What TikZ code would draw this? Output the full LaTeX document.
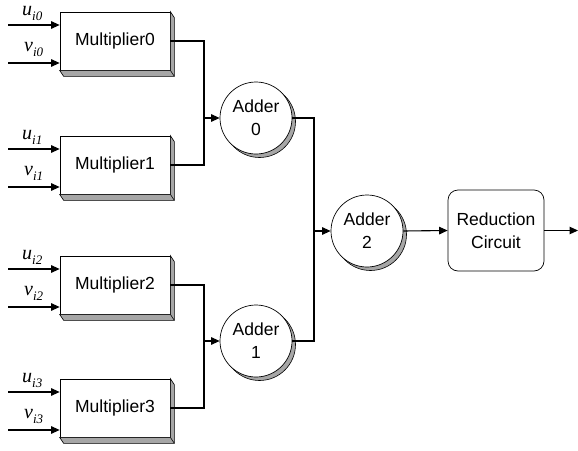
\documentclass[tikz,border=0pt]{standalone}
\usepackage{fontspec}
\setmainfont{Liberation Sans}
\newfontfamily\lblfont{Liberation Serif}
\usetikzlibrary{arrows.meta,calc,shadows}

% italic operand name with a lowered index
\newcommand{\opname}[2]{{\lblfont\itshape\fontsize{20}{20}\selectfont #1\lower5pt\hbox{\fontsize{13}{13}\selectfont #2}}}

\begin{document}
\begin{tikzpicture}[x=1pt,y=-1pt,
  mult/.style={draw, line width=0.7pt, fill=white, minimum width=110pt,
    minimum height=58pt, inner sep=0pt, font=\fontsize{17.5}{20}\selectfont},
  adder/.style={draw, circle, line width=0.7pt, fill=white, minimum size=72pt,
    inner sep=0pt, align=center, font=\fontsize{17.5}{23}\selectfont,
    drop shadow={shadow xshift=3.5pt, shadow yshift=-3.5pt, fill=gray!70,
      draw=black, line width=0.6pt, opacity=1}},
  redbox/.style={draw, rounded corners=10pt, line width=0.7pt, fill=white,
    minimum width=96pt, minimum height=81pt, inner sep=0pt, align=center,
    font=\fontsize{17.5}{23}\selectfont},
  extrude/.style={fill=gray!70, draw=black, line width=0.6pt},
  wire/.style={line width=1.1pt},
  arr/.style={wire, -{Triangle[length=8.5pt,width=7.5pt]}},
  lbl/.style={anchor=base west, inner sep=0pt}
]
\useasboundingbox (0,0) rectangle (578,450);

% multipliers with their operand inputs
\foreach \k/\cy in {0/41, 1/165, 2/285, 3/408} {
  \node[mult] (m\k) at (115,\cy) {Multiplier\k};
  \draw[extrude] (m\k.north east) -- ($(m\k.north east)+(4,6)$)
    -- ($(m\k.south east)+(4,6)$) -- ($(m\k.south west)+(4,6)$)
    -- (m\k.south west) -- (m\k.south east) -- cycle;
  \draw[line width=0.6pt] (m\k.south east) -- ($(m\k.south east)+(4,6)$);
  \coordinate (u\k) at (8,\cy-16);
  \coordinate (v\k) at (8,\cy+22);
  \draw[arr] (u\k) -- (u\k -| m\k.west);
  \draw[arr] (v\k) -- (v\k -| m\k.west);
  \node[lbl] (lu\k) at (22,\cy-26) {\opname{u}{i\k}};
  \node[lbl] (lv\k) at (24,\cy+10) {\opname{v}{i\k}};
}

% adder tree and reduction stage
\node[adder] (a0) at (256,118) {Adder\\0};
\node[adder] (a1) at (256,341) {Adder\\1};
\node[adder] (a2) at (367,231) {Adder\\2};
\node[redbox] (rc) at (496,230.5) {Reduction\\Circuit};

\coordinate (j0) at (204,0);
\coordinate (j1) at (204,0);
\coordinate (j2) at (314,0);
\coordinate (out) at (578,230.5);

\draw[wire] (m0.east) -- (m0.east -| j0) -- (m1.east -| j0) -- (m1.east);
\draw[arr] (a0.west -| j0) -- (a0.west);
\draw[wire] (m2.east) -- (m2.east -| j1) -- (m3.east -| j1) -- (m3.east);
\draw[arr] (a1.west -| j1) -- (a1.west);
\draw[wire] (a0.east) -- (a0.east -| j2) -- (a1.east -| j2) -- (a1.east);
\draw[arr] (a2.west -| j2) -- (a2.west);
\draw[arr] (a2.east) -- (rc.west);
\draw[arr] (rc.east) -- (out);
\end{tikzpicture}
\end{document}
